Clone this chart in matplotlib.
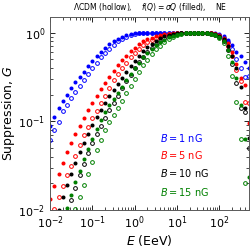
import matplotlib
matplotlib.use("Agg")
import matplotlib.pyplot as plt
import numpy as np

# energy grid (log10 E / EeV), one point every 0.1 decade
log_e = [-2.0, -1.9, -1.8, -1.7, -1.6, -1.5, -1.4, -1.3, -1.2, -1.1,
         -1.0, -0.9, -0.8, -0.7, -0.6, -0.5, -0.4, -0.3, -0.2, -0.1,
         0.0, 0.1, 0.2, 0.3, 0.4, 0.5, 0.6, 0.7, 0.8, 0.9,
         1.0, 1.1, 1.2, 1.3, 1.4, 1.5, 1.6, 1.7, 1.8, 1.9,
         2.0, 2.1, 2.2, 2.3, 2.4, 2.5, 2.6, 2.7]

# log10 of suppression G
b1_fq = [-1.05, -0.95, -0.85, -0.77, -0.70, -0.63, -0.56, -0.50, -0.44, -0.38,
         -0.32, -0.27, -0.22, -0.17, -0.13, -0.10, -0.07, -0.045, -0.028, -0.015,
         -0.007, -0.003, -0.001, 0, 0, 0, 0, 0, 0, 0,
         0, 0, 0, 0, 0, 0, 0, 0, -0.004, -0.01,
         -0.02, -0.04, -0.08, -0.14, -0.22, -0.27, -0.33, -0.40]
b1_lcdm = [-1.21, -1.10, -1.01, -0.89, -0.82, -0.74, -0.67, -0.60, -0.54, -0.47,
           -0.40, -0.34, -0.28, -0.225, -0.18, -0.14, -0.10, -0.07, -0.045, -0.027,
           -0.015, -0.007, -0.003, -0.001, 0, 0, 0, 0, 0, 0,
           0, 0, 0, 0, 0, 0, 0, 0, -0.006, -0.015,
           -0.03, -0.06, -0.11, -0.19, -0.30, -0.40, -0.50, -0.49]

b5_fq = [-1.88, -1.73, -1.59, -1.47, -1.35, -1.24, -1.14, -1.05, -0.96, -0.87,
         -0.79, -0.72, -0.64, -0.57, -0.50, -0.43, -0.37, -0.31, -0.26, -0.21,
         -0.17, -0.13, -0.10, -0.075, -0.058, -0.043, -0.03, -0.02, -0.012, -0.006,
         -0.002, 0, 0, 0, 0, 0, 0, 0, -0.008, -0.015,
         -0.03, -0.06, -0.12, -0.22, -0.35, -0.51, -0.59, -1.02]
b5_lcdm = [-2.14, -1.99, -1.85, -1.73, -1.61, -1.50, -1.39, -1.27, -1.16, -1.06,
           -0.96, -0.88, -0.79, -0.71, -0.62, -0.54, -0.47, -0.40, -0.34, -0.28,
           -0.23, -0.18, -0.14, -0.105, -0.083, -0.063, -0.045, -0.03, -0.019, -0.011,
           -0.005, -0.002, 0, 0, 0, 0, 0, 0, -0.01, -0.02,
           -0.04, -0.08, -0.15, -0.27, -0.42, -0.55, -0.78, -0.79]

b10_fq = [-2.30, -2.15, -2.00, -1.86, -1.72, -1.59, -1.47, -1.35, -1.24, -1.14,
          -1.04, -0.95, -0.87, -0.79, -0.72, -0.65, -0.58, -0.51, -0.44, -0.38,
          -0.32, -0.26, -0.21, -0.165, -0.125, -0.09, -0.063, -0.042, -0.027, -0.016,
          -0.008, -0.003, 0, 0, 0, 0, 0, 0, -0.01, -0.02,
          -0.035, -0.07, -0.15, -0.27, -0.40, -0.61, -0.85, -1.19]
b10_lcdm = [-2.60, -2.45, -2.30, -2.16, -2.02, -1.89, -1.75, -1.61, -1.48, -1.36,
            -1.24, -1.14, -1.05, -0.96, -0.87, -0.79, -0.71, -0.63, -0.55, -0.48,
            -0.405, -0.335, -0.275, -0.22, -0.17, -0.125, -0.09, -0.062, -0.041, -0.025,
            -0.014, -0.006, -0.002, 0, 0, 0, 0, 0, -0.012, -0.025,
            -0.05, -0.10, -0.20, -0.35, -0.57, -0.85, -0.90, -1.30]

b15_fq = [-2.60, -2.42, -2.26, -2.12, -1.98, -1.83, -1.69, -1.56, -1.43, -1.31,
          -1.20, -1.09, -0.99, -0.90, -0.82, -0.75, -0.68, -0.61, -0.54, -0.47,
          -0.40, -0.34, -0.28, -0.23, -0.18, -0.14, -0.11, -0.08, -0.055, -0.037,
          -0.023, -0.013, -0.006, -0.002, 0, 0, 0, 0, -0.012, -0.025,
          -0.045, -0.09, -0.20, -0.33, -0.51, -0.82, -1.20, -1.63]
b15_lcdm = [-2.90, -2.72, -2.56, -2.42, -2.28, -2.13, -1.99, -1.86, -1.72, -1.59,
            -1.46, -1.33, -1.21, -1.10, -1.01, -0.93, -0.85, -0.77, -0.68, -0.60,
            -0.52, -0.445, -0.37, -0.305, -0.24, -0.19, -0.15, -0.11, -0.077, -0.052,
            -0.033, -0.02, -0.01, -0.004, 0, 0, 0, 0, -0.015, -0.03,
            -0.06, -0.12, -0.26, -0.49, -0.78, -1.20, -1.70, -2.50]

field_labels = ["$B = 1$ nG", "$B = 5$ nG", "$B = 10$ nG", "$B = 15$ nG"]
colors = ["#0000ff", "#ff0000", "black", "green"]
fq_series = [b1_fq, b5_fq, b10_fq, b15_fq]
lcdm_series = [b1_lcdm, b5_lcdm, b10_lcdm, b15_lcdm]

energy = 10 ** np.array(log_e)

fig = plt.figure(figsize=(2.53, 2.49), dpi=100)
ax = fig.add_axes([0.198, 0.157, 0.786, 0.775])

for col, fq, lc in zip(colors, fq_series, lcdm_series):
    ax.plot(energy, 10 ** np.array(lc), "o", mfc="none", mec=col, ms=2.7, mew=0.7)
    ax.plot(energy, 10 ** np.array(fq), "o", color=col, ms=2.9, mew=0)

ax.set_xscale("log")
ax.set_yscale("log")
ax.set_xlim(1e-2, 500)
ax.set_ylim(1e-2, 1.5)

ax.tick_params(which="both", direction="in", top=True, right=True, labelsize=8)
ax.tick_params(which="major", length=3.5, width=0.6)
ax.tick_params(which="minor", length=2, width=0.5)
for s in ax.spines.values():
    s.set_linewidth(0.7)
    s.set_color("0.35")

ax.set_xlabel("$E$ (EeV)", fontsize=9, labelpad=1)
ax.set_ylabel("Suppression, $G$", fontsize=9, labelpad=1)
ax.set_title(r"$\Lambda$CDM (hollow),    $f(Q) = \sigma Q$ (filled),    NE",
             fontsize=5.5, pad=5)

ypos = [0.373, 0.285, 0.19, 0.093]
for lab, col, yy in zip(field_labels, colors, ypos):
    ax.text(0.553, yy, lab, color=col, fontsize=7, transform=ax.transAxes, va="center")

fig.savefig("out.png", dpi=100)
